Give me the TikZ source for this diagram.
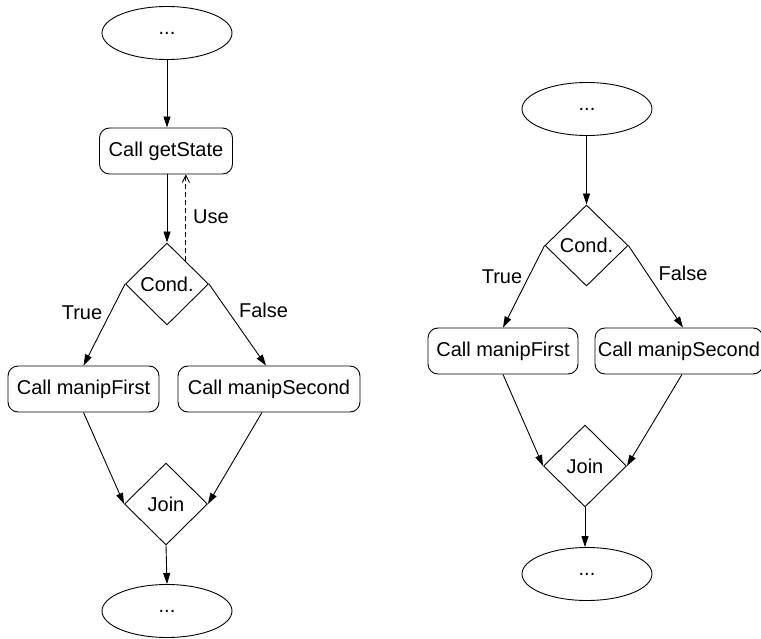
\documentclass[tikz,border=0pt]{standalone}
\usepackage{fontspec}
\setmainfont{Liberation Sans}
\usetikzlibrary{shapes.geometric,arrows.meta,calc}
\begin{document}
\begin{tikzpicture}[x=1pt,y=-1pt,
  font=\fontsize{20}{24}\selectfont,
  line width=0.9pt,
  every node/.style={inner sep=0pt},
  terminal/.style={draw,ellipse,minimum width=130pt,minimum height=53pt},
  callbox/.style={draw,rounded corners=10pt,minimum height=46pt},
  branch/.style={draw,diamond,minimum width=83pt,minimum height=82pt},
  flow/.style={-{Triangle[length=11pt,width=7pt]}},
  uses/.style={dashed,dash pattern=on 5pt off 3pt,-{Straight Barb[length=7pt,width=7pt]}},
  lbl/.style={anchor=center}]
\useasboundingbox (0,0) rectangle (761,639);

% left flow: condition evaluated from getState
\node[terminal] (la) at (167,33) {...};
\node[callbox,minimum width=133pt] (lg) at (166,151) {Call getState};
\node[branch] (lc) at (167,284) {Cond.};
\node[callbox,minimum width=151pt] (lf) at (83.5,389) {Call manipFirst};
\node[callbox,minimum width=182pt] (ls) at (269,389) {Call manipSecond};
\node[branch] (lj) at (166,504) {Join};
\node[terminal] (lz) at (167,611) {...};

\draw[flow] (la) -- (la |- lg.north);
\draw[flow] (lg.south -| lc) -- (lc.north);
\draw[flow] (lc.west) -- (lf.north);
\draw[flow] (lc.east) -- ([xshift=-3pt]ls.north);
\draw[flow] (lf.south) -- (lj.west);
\draw[flow] ([xshift=-7pt]ls.south) -- (lj.east);
\draw[flow] (lj.south) -- (lz.north);
\coordinate (lu) at ($(lc.north)!0.45!(lc.east)$);
\draw[uses] (lu) -- (lu |- lg.south);

\node[lbl] (luse) at (211,217) {Use};
\node[lbl] (ltrue) at (82,313) {True};
\node[lbl] (lfalse) at (263.5,310) {False};

% right flow: condition evaluated directly
\node[terminal] (ra) at (587,109) {...};
\node[branch,minimum height=81pt] (rc) at (586.5,245.5) {Cond.};
\node[callbox,minimum width=150pt] (rf) at (503,351) {Call manipFirst};
\node[callbox,minimum width=168pt] (rs) at (679,351) {Call manipSecond};
\node[branch] (rj) at (585,466) {Join};
\node[terminal] (rz) at (587,574) {...};

\draw[flow] (ra.south -| rc) -- (rc.north);
\draw[flow] (rc.west) -- (rf.north);
\draw[flow] (rc.east) -- ([xshift=4pt]rs.north);
\draw[flow] (rf.south) -- (rj.west);
\draw[flow] ([xshift=3pt]rs.south) -- (rj.east);
\draw[flow] (rj.south) -- (rj.south |- rz.north);

\node[lbl] (rtrue) at (502,277) {True};
\node[lbl] (rfalse) at (683,273) {False};
\end{tikzpicture}
\end{document}
